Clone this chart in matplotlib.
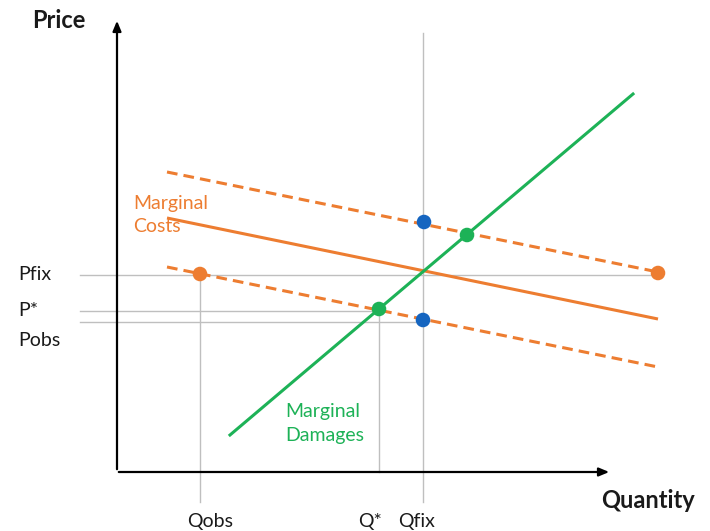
import matplotlib
matplotlib.use("Agg")
import matplotlib.pyplot as plt

plt.rcParams['font.family'] = ['Lato', 'DejaVu Sans']

# Data (in chart units; origin at axes corner)
mc_x = [50, 541]
mc_y = [254, 153]
mc_upper_x = [50, 541]
mc_upper_y = [300, 200]
mc_lower_x = [50, 541]
mc_lower_y = [205, 105]
md_x = [113, 516]
md_y = [37, 378]

q_obs, q_star, q_fix = 83, 262, 306
p_fix, p_star, p_obs = 198, 161, 150

orange_pts_x = [83, 541]
orange_pts_y = [198, 199]
green_pts_x = [350, 262]
green_pts_y = [237, 163]
blue_pts_x = [307, 306]
blue_pts_y = [250, 152]

p_labels = ["Pfix", "P*", "Pobs"]
q_labels = ["Qobs", "Q*", "Qfix"]

ORANGE = "#ED7D31"
GREEN = "#1DB257"
BLUE = "#1565C0"
GRAY = "#BFBFBF"

fig = plt.figure(figsize=(7.10, 5.31), dpi=100)
ax = fig.add_axes([0, 0, 1, 1])
ax.set_xlim(-117, 593)
ax.set_ylim(-59, 472)
ax.axis("off")

# Guide lines
gkw = dict(color=GRAY, lw=1.0, zorder=1)
ax.plot([-37, 541], [p_fix - 1, p_fix - 1], **gkw)
ax.plot([-37, q_star], [p_star, p_star], **gkw)
ax.plot([-37, q_fix], [p_obs, p_obs], **gkw)
ax.plot([q_obs, q_obs], [-30, p_fix], **gkw)
ax.plot([q_star, q_star], [0, p_star], **gkw)
ax.plot([q_fix, q_fix], [-30, 439], **gkw)

# Axes with arrows
ax.annotate("", xy=(0, 454), xytext=(0, 0),
            arrowprops=dict(arrowstyle="-|>,head_length=0.6,head_width=0.25", color="black", lw=1.6), zorder=3)
ax.annotate("", xy=(495, 0), xytext=(-1, 0),
            arrowprops=dict(arrowstyle="-|>,head_length=0.6,head_width=0.25", color="black", lw=1.6), zorder=3)

# Curves
ax.plot(mc_x, mc_y, color=ORANGE, lw=2.2, zorder=4, solid_capstyle="butt")
ax.plot(mc_upper_x, mc_upper_y, color=ORANGE, lw=2.2, ls=(0, (3.5, 2)), zorder=4)
ax.plot(mc_lower_x, mc_lower_y, color=ORANGE, lw=2.2, ls=(0, (3.5, 2)), zorder=4)
ax.plot(md_x, md_y, color=GREEN, lw=2.2, zorder=4)

# Points
ax.scatter(orange_pts_x, orange_pts_y, s=110, color=ORANGE, zorder=5, edgecolors="none")
ax.scatter(green_pts_x, green_pts_y, s=110, color=GREEN, zorder=5, edgecolors="none")
ax.scatter(blue_pts_x, blue_pts_y, s=110, color=BLUE, zorder=5, edgecolors="none")

# Labels
ax.text(-85, 451, "Price", fontsize=17, fontweight="bold", color="#1a1a1a", ha="left", va="center")
ax.text(484, -28, "Quantity", fontsize=17, fontweight="bold", color="#1a1a1a", ha="left", va="center")

for lab, yv in zip(p_labels, [197, 162, 132]):
    ax.text(-99, yv, lab, fontsize=14, color="#1a1a1a", ha="left", va="center")
for lab, xv in zip(q_labels, [93, 253, 300]):
    ax.text(xv, -50, lab, fontsize=14, color="#1a1a1a", ha="center", va="center")

ax.text(16, 257, "Marginal\nCosts", fontsize=14, color=ORANGE, ha="left", va="center", linespacing=1.5)
ax.text(168, 49, "Marginal\nDamages", fontsize=14, color=GREEN, ha="left", va="center", linespacing=1.5)

fig.savefig("out.png", dpi=100, facecolor="white")
